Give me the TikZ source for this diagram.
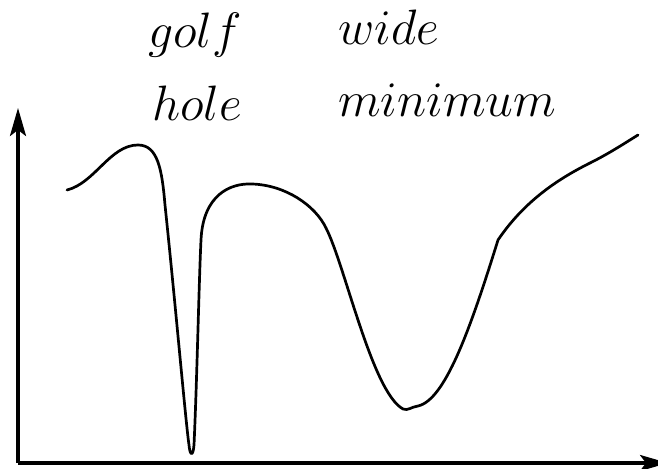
\documentclass[tikz,border=0pt]{standalone}
\usetikzlibrary{arrows.meta}
\tikzset{axis/.style={line width=1.65pt,-{Stealth[length=14pt,width=8pt,inset=3pt]}},
  landscape/.style={line width=1.35pt,line cap=round,line join=round},
  lbl/.style={anchor=base west,inner sep=0pt,font=\Huge}}

\begin{document}
\begin{tikzpicture}[x=0.5pt,y=-0.5pt]
	  \clip (0,0) rectangle (658,469);
	  \path (18,463) coordinate (O)
	          (18,108) coordinate (Y)
	          (668,463) coordinate (X)
	          (67,190) coordinate (S)
	          (138,145) coordinate (P)
	          (191,450) coordinate (G)
	          (252,184) coordinate (H)
	          (410,409) coordinate (W)
	          (638,135) coordinate (E);
	      \draw[axis] (O)--(Y);
	      \draw[axis] (O)--(X);
	      % golf hole, then the wide minimum
	      \draw[landscape] (S) .. controls (95,183) and (110,145) .. (P)
	          .. controls (158,145) and (162,170) .. (165,205)
	          .. controls (175,300) and (186,425) .. (189,445)
	          .. controls (190,456) and (193,457) .. (194,445)
	          .. controls (197,380) and (199,280) .. (201,240)
	          .. controls (203,195) and (230,183) .. (H)
	          .. controls (285,185) and (315,205) .. (326,228)
	          .. controls (345,265) and (372,392) .. (403,409)
	          .. controls (408,411) and (411,407) .. (418,406)
	          .. controls (445,400) and (470,330) .. (498,240)
	          .. controls (525,200) and (560,178) .. (590,163)
	          .. controls (610,153) and (625,143) .. (E);

	      \node[lbl] (golf) at (148,48) {$golf$};
	      \node[lbl] (hole) at (152,121) {$hole$};
	      \node[lbl] (wide) at (338,45) {$wide$};
	      \node[lbl] (minimum) at (338,117) {$minimum$};
	\end{tikzpicture}
\end{document}
